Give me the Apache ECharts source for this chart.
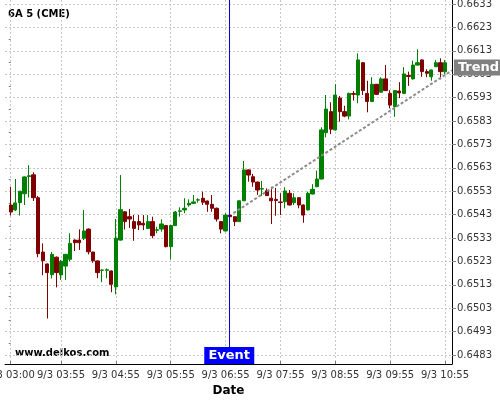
<!DOCTYPE html>
<html><head><meta charset="utf-8">
<script src="https://cdn.jsdelivr.net/npm/echarts@6/dist/echarts.min.js"></script>
<style>html,body{margin:0;padding:0;background:#fff}#c{width:500px;height:400px}</style>
</head><body><div id="c"></div>
<script>
// 5-minute candles, 9/3 03:00 .. 10:55 (index 0..95)
const opens  = [0.65471,0.65450,0.65481,0.65519,0.65593,0.65600,0.65502,0.65270,0.65219,0.65173,
0.65248,0.65172,0.65210,0.65239,0.65321,0.65321,0.65329,0.65368,0.65270,0.65232,
0.65192,0.65192,0.65189,0.65121,0.65321,0.65442,0.65421,0.65400,0.65400,0.65393,
0.65371,0.65400,0.65363,0.65368,0.65383,0.65293,0.65383,0.65444,0.65450,0.65471,
0.65478,0.65492,0.65500,0.65488,0.65474,0.65457,0.65400,0.65360,0.65428,0.65421,
0.65400,0.65489,0.65621,0.65592,0.65569,0.65539,0.65532,0.65500,0.65495,0.65484,
0.65485,0.65521,0.65481,0.65502,0.65471,0.65450,0.65518,0.65549,0.65582,0.65780,
0.65870,0.65792,0.65928,0.65870,0.65851,0.65947,0.65941,0.66079,0.65948,0.65913,
0.65987,0.65953,0.66010,0.65948,0.65891,0.65958,0.65948,0.66024,0.66010,0.66069,
0.66091,0.66041,0.66019,0.66062,0.66079,0.66041];
const closes = [0.65441,0.65480,0.65530,0.65591,0.65596,0.65502,0.65263,0.65233,0.65182,0.65260,
0.65182,0.65230,0.65260,0.65307,0.65310,0.65310,0.65360,0.65271,0.65233,0.65182,
0.65193,0.65194,0.65132,0.65329,0.65451,0.65400,0.65411,0.65371,0.65386,0.65386,
0.65400,0.65340,0.65365,0.65390,0.65293,0.65383,0.65441,0.65446,0.65457,0.65478,
0.65484,0.65493,0.65483,0.65474,0.65457,0.65411,0.65368,0.65428,0.65421,0.65400,
0.65489,0.65621,0.65599,0.65569,0.65535,0.65541,0.65511,0.65489,0.65490,0.65482,
0.65531,0.65471,0.65502,0.65471,0.65428,0.65521,0.65538,0.65582,0.65792,0.65881,
0.65795,0.65941,0.65870,0.65851,0.65948,0.65944,0.66091,0.65960,0.65913,0.65987,
0.65944,0.66010,0.65960,0.65898,0.65960,0.65950,0.66031,0.66020,0.66069,0.66079,
0.66041,0.66034,0.66048,0.66079,0.66041,0.66079];
const lows   = [0.65426,0.65445,0.65426,0.65471,0.65503,0.65488,0.65248,0.65171,0.64986,0.65157,
0.65119,0.65151,0.65151,0.65230,0.65274,0.65279,0.65321,0.65260,0.65224,0.65158,
0.65141,0.65158,0.65098,0.65089,0.65319,0.65366,0.65373,0.65318,0.65364,0.65364,
0.65370,0.65329,0.65350,0.65357,0.65290,0.65238,0.65381,0.65421,0.65436,0.65464,
0.65477,0.65481,0.65471,0.65442,0.65442,0.65400,0.65350,0.65358,0.65420,0.65381,
0.65398,0.65488,0.65571,0.65549,0.65514,0.65510,0.65510,0.65390,0.65425,0.65428,
0.65457,0.65469,0.65471,0.65457,0.65395,0.65448,0.65516,0.65548,0.65580,0.65760,
0.65774,0.65789,0.65827,0.65846,0.65837,0.65917,0.65906,0.65941,0.65867,0.65911,
0.65941,0.65952,0.65958,0.65884,0.65848,0.65928,0.65945,0.65980,0.66007,0.66067,
0.66019,0.66017,0.66002,0.66061,0.66008,0.66031];
const highs  = [0.65549,0.65582,0.65531,0.65593,0.65641,0.65611,0.65510,0.65307,0.65221,0.65270,
0.65251,0.65236,0.65262,0.65350,0.65324,0.65367,0.65450,0.65371,0.65271,0.65234,
0.65196,0.65200,0.65191,0.65411,0.65599,0.65445,0.65454,0.65428,0.65428,0.65428,
0.65428,0.65421,0.65378,0.65410,0.65386,0.65386,0.65445,0.65461,0.65500,0.65495,
0.65514,0.65500,0.65528,0.65490,0.65514,0.65460,0.65401,0.65436,0.65430,0.65422,
0.65490,0.65659,0.65623,0.65604,0.65571,0.65574,0.65542,0.65549,0.65544,0.65521,
0.65547,0.65535,0.65521,0.65505,0.65473,0.65528,0.65560,0.65618,0.65803,0.65941,
0.65910,0.65987,0.65937,0.65895,0.65951,0.65958,0.66119,0.66082,0.66002,0.66017,
0.65988,0.66017,0.66069,0.65962,0.65962,0.65996,0.66060,0.66041,0.66088,0.66136,
0.66093,0.66051,0.66050,0.66091,0.66098,0.66091];

const tickIndex  = [0, 11, 23, 35, 47, 59, 71, 83, 95];
const tickLabels = ['9/3 03:00','9/3 03:55','9/3 04:55','9/3 05:55','9/3 06:55','9/3 07:55','9/3 08:55','9/3 09:55','9/3 10:55'];
const priceTicks = [0.6483,0.6493,0.6503,0.6513,0.6523,0.6533,0.6543,0.6553,0.6563,0.6573,0.6583,0.6593,0.6603,0.6613,0.6623,0.6633];
const priceMinorTicks = [0.6488,0.6498,0.6508,0.6518,0.6528,0.6538,0.6548,0.6558,0.6568,0.6578,0.6588,0.6598,0.6608,0.6618,0.6628];
const eventIndex = 47.8;
const eventLabel = 'Event';
const trendPoints = [[48.7, 0.65436], [96.5, 0.66046]];
const trendLabel = 'Trend';
const symbolName = '6A 5 (CME)';
const siteName = 'www.delkos.com';

const Y_MIN = 0.647915, Y_MAX = 0.663471;
const X_MIN = -1.25, X_MAX = 96.52;
const FONT = 'DejaVu Sans';

const candles = opens.map((o, i) => [i, o, closes[i], lows[i], highs[i]]);

const chart = echarts.init(document.getElementById('c'), null, {renderer: 'canvas'});
const gridLine = {show: true, lineStyle: {color: '#c8c8c8', width: 1, type: [2, 2]}};
chart.setOption({
  animation: false,
  backgroundColor: '#ffffff',
  grid: {left: 5, right: 48, top: 0, bottom: 36, outerBoundsMode: 'none', containLabel: false},
  xAxis: {
    type: 'value', min: X_MIN, max: X_MAX,
    name: 'Date', nameLocation: 'middle', nameGap: 21,
    nameTextStyle: {fontFamily: FONT, fontWeight: 'bold', fontSize: 12, color: '#000'},
    axisLine: {show: true, onZero: false, lineStyle: {color: '#000', width: 1}},
    axisTick: {show: true, customValues: tickIndex, inside: true, length: 3, lineStyle: {color: '#808080'}},
    axisLabel: {customValues: tickIndex, formatter: v => tickLabels[tickIndex.indexOf(v)],
      fontFamily: FONT, fontSize: 10, color: '#333', margin: 6, hideOverlap: false},
    splitLine: gridLine
  },
  yAxis: [{
    type: 'value', position: 'right', min: Y_MIN, max: Y_MAX,
    axisLine: {show: true, onZero: false, lineStyle: {color: '#000', width: 1}},
    axisTick: {show: true, customValues: priceTicks, length: 4, lineStyle: {color: '#808080'}},
    axisLabel: {customValues: priceTicks, formatter: v => v.toFixed(4),
      fontFamily: FONT, fontSize: 10, color: '#333', margin: 5},
    splitLine: gridLine
  }, {
    type: 'value', position: 'right', min: Y_MIN, max: Y_MAX,
    axisLine: {show: false},
    axisTick: {show: true, inside: true, customValues: priceMinorTicks, length: 2, lineStyle: {color: '#808080'}},
    axisLabel: {show: false},
    splitLine: {show: false}
  }],
  graphic: [
    {type: 'text', left: 8, top: 9, style: {text: symbolName, font: 'bold 10px "DejaVu Sans"', fill: '#000'}},
    {type: 'text', left: 15, top: 348, style: {text: siteName, font: 'bold 10px "DejaVu Sans"', fill: '#000'}}
  ],
  series: [{
    type: 'candlestick', data: candles, encode: {x: 0, y: [1, 2, 3, 4]},
    barWidth: 3.8,
    itemStyle: {color: '#008000', color0: '#800000', borderColor: '#008000', borderColor0: '#800000', borderWidth: 1},
    markLine: {
      silent: true, symbol: 'none', animation: false,
      label: {show: false},
      lineStyle: {color: '#0000e0', width: 1, type: 'solid'},
      data: [{xAxis: eventIndex}]
    },
    markPoint: {
      silent: true, animation: false,
      data: [{
        coord: [eventIndex, Y_MIN], symbol: 'rect', symbolSize: [50, 17], symbolOffset: [0, -8.5],
        itemStyle: {color: '#0000ff'},
        label: {show: true, position: 'inside', formatter: eventLabel, color: '#fff',
          fontFamily: FONT, fontWeight: 'bold', fontSize: 13}
      }]
    }
  }, {
    type: 'line', data: trendPoints, symbol: 'none', silent: true, z: 3,
    lineStyle: {color: '#8c8c8c', width: 2, type: [3, 2]},
    endLabel: {show: true, formatter: trendLabel, color: '#fff', fontFamily: FONT, fontWeight: 'bold',
      fontSize: 13, backgroundColor: '#808080', padding: [2, 4, 1, 4], distance: 2, offset: [0, -3]}
  }]
});
</script></body></html>
